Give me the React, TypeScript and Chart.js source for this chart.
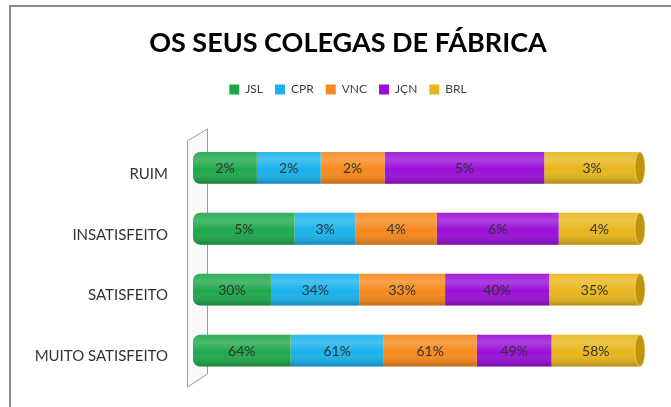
import React, { useEffect, useRef } from "react";
import { Chart, registerables } from "chart.js";

Chart.register(...registerables);

const categories = ["RUIM", "INSATISFEITO", "SATISFEITO", "MUITO SATISFEITO"];
const seriesNames = ["JSL", "CPR", "VNC", "JÇN", "BRL"];
const jsl = [2, 5, 30, 64];
const cpr = [2, 3, 34, 61];
const vnc = [2, 4, 33, 61];
const jcn = [5, 6, 40, 49];
const brl = [3, 4, 35, 58];
const colors = ["#1fa84b", "#19b2ec", "#f7891d", "#9a0fd8", "#e8b61c"];
const titleText = "OS SEUS COLEGAS DE FÁBRICA";

const FONT = "Lato, 'Open Sans', sans-serif";

export default function App() {
  const ref = useRef<HTMLCanvasElement | null>(null);
  useEffect(() => {
    document.body.style.margin = "0";
    const raw = [jsl, cpr, vnc, jcn, brl];
    const totals = categories.map((_, i) => raw.reduce((s, a) => s + a[i], 0));
    const datasets = raw.map((arr, k) => ({
      label: seriesNames[k],
      data: arr.map((v, i) => (v / totals[i]) * 100),
      backgroundColor: colors[k],
      borderWidth: 0,
      borderSkipped: k === 0 ? false : "start",
      borderRadius: k === 0 ? { topLeft: 7, bottomLeft: 7, topRight: 0, bottomRight: 0 } : 0,
      categoryPercentage: 0.8,
      barPercentage: 0.6525,
    }));

    const legendSpace = {
      id: "legendSpace",
      beforeInit(chart: any) {
        const lg = chart.legend;
        const fit = lg.fit;
        lg.fit = function () {
          fit.call(lg);
          lg.height += 32;
        };
      },
      afterLayout(chart: any) {
        const shift = 15.5;
        [chart.titleBlock, chart.legend].forEach((b: any) => {
          if (b) {
            b.left += shift;
            b.right += shift;
          }
        });
      },
    };

    const deco = {
      id: "deco",
      beforeDraw(chart: any) {
        const c = chart.ctx;
        c.save();
        c.fillStyle = "#ffffff";
        c.fillRect(0, 0, chart.width, chart.height);
        c.strokeStyle = "#8a8a8a";
        c.lineWidth = 2;
        c.strokeRect(10, 6, 800, 600);
        c.restore();
      },
      beforeDatasetsDraw(chart: any) {
        const c = chart.ctx;
        const a = chart.chartArea;
        const l = a.left - 5.5;
        const r = a.left + 14.5;
        c.save();
        c.strokeStyle = "#9a9a9a";
        c.lineWidth = 1;
        c.beginPath();
        c.moveTo(l, a.top + 3.5);
        c.lineTo(r, a.top - 8.5);
        c.lineTo(r, a.bottom - 7);
        c.lineTo(l, a.bottom + 6);
        c.closePath();
        c.fillStyle = "rgba(245,245,245,0.6)";
        c.fill();
        c.stroke();
        c.restore();
      },
      afterDatasetsDraw(chart: any) {
        const c = chart.ctx;
        const first = chart.getDatasetMeta(0).data;
        const last = chart.getDatasetMeta(raw.length - 1).data;
        c.save();
        for (let i = 0; i < categories.length; i++) {
          const e0: any = first[i];
          const eL: any = last[i];
          const h = e0.height;
          const y0 = e0.y - h / 2;
          const x0 = e0.base;
          const x1 = eL.x;
          const g = c.createLinearGradient(0, y0, 0, y0 + h);
          g.addColorStop(0, "rgba(255,255,255,0.08)");
          g.addColorStop(0.25, "rgba(255,255,255,0.2)");
          g.addColorStop(0.55, "rgba(255,255,255,0)");
          g.addColorStop(1, "rgba(0,0,0,0.22)");
          c.beginPath();
          (c as any).roundRect(x0, y0, x1 - x0, h, [7, 0, 0, 7]);
          c.fillStyle = g;
          c.fill();
          c.beginPath();
          c.ellipse(x1, e0.y, 5, h / 2, 0, 0, Math.PI * 2);
          c.fillStyle = "#bf950f";
          c.fill();
          c.strokeStyle = "rgba(255,225,140,0.5)";
          c.lineWidth = 1;
          c.stroke();
        }
        c.font = `14px ${FONT}`;
        c.fillStyle = "#333333";
        c.textAlign = "center";
        c.textBaseline = "middle";
        raw.forEach((arr, k) => {
          const meta = chart.getDatasetMeta(k).data;
          arr.forEach((v, i) => {
            const el: any = meta[i];
            c.fillText(`${v}%`, (el.x + el.base) / 2, el.y + 1);
          });
        });
        c.restore();
      },
    };

    const chart = new Chart(ref.current as HTMLCanvasElement, {
      type: "bar",
      data: { labels: categories, datasets: datasets as any },
      options: {
        indexAxis: "y",
        animation: false,
        responsive: false,
        layout: { padding: { left: 25, right: 31, top: 27, bottom: 18 } },
        scales: {
          x: { stacked: true, min: 0, max: 100, display: false },
          y: {
            stacked: true,
            grid: { display: false },
            border: { display: false },
            afterFit(axis: any) {
              axis.width = 168;
            },
            ticks: {
              color: "#333",
              font: { size: 15, family: FONT },
              padding: 17,
              labelOffset: 6,
            },
          },
        },
        plugins: {
          title: {
            display: true,
            text: titleText,
            color: "#000",
            font: { size: 27, weight: "bold", family: FONT },
            padding: { top: 0, bottom: 12 },
          },
          legend: {
            display: true,
            labels: {
              boxWidth: 10,
              boxHeight: 10,
              color: "#404040",
              font: { size: 12, family: FONT },
              padding: 12,
            },
          },
          tooltip: { enabled: false },
        },
      },
      plugins: [legendSpace, deco],
    });
    return () => chart.destroy();
  }, []);
  return <canvas ref={ref} width={671} height={407} style={{ display: "block" }} />;
}
